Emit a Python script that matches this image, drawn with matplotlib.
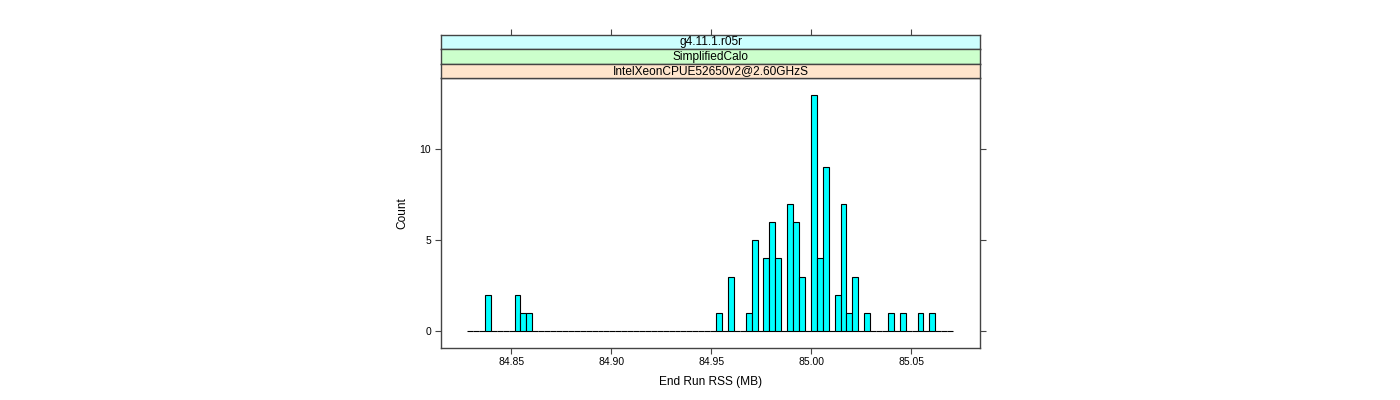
# lattice-style histogram of end run RSS
import numpy as np
import matplotlib
matplotlib.use('Agg')
import matplotlib.pyplot as plt

plt.rcParams['font.family'] = ['Liberation Sans', 'DejaVu Sans']

# Histogram data
bin_start = 84.828     # left edge of first bin (MB)
bin_width = 0.0029625  # bin width (MB)
counts = [0, 0, 0, 2, 0, 0, 0, 0, 2, 1,
          1, 0, 0, 0, 0, 0, 0, 0, 0, 0,
          0, 0, 0, 0, 0, 0, 0, 0, 0, 0,
          0, 0, 0, 0, 0, 0, 0, 0, 0, 0,
          0, 0, 1, 0, 3, 0, 0, 1, 5, 0,
          4, 6, 4, 0, 7, 6, 3, 0, 13, 4,
          9, 0, 2, 7, 1, 3, 0, 1, 0, 0,
          0, 1, 0, 1, 0, 0, 1, 0, 1, 0,
          0, 0]

strip_labels = ['g4.11.1.r05r', 'SimplifiedCalo', 'IntelXeonCPUE52650v2@2.60GHzS']
strip_colors = ['#ccffff', '#ccffcc', '#ffe5cc']

x_ticks = [84.85, 84.90, 84.95, 85.00, 85.05]
y_ticks = [0, 5, 10]
xlim = (84.8148, 85.0845)
ylim = (-0.91, 13.91)

frame_col = '#444444'

fig = plt.figure(figsize=(14, 4), dpi=100)

# Panel
left, right = 0.3148, 0.7002
bottom, top = 0.1308, 0.805
ax = fig.add_axes([left, bottom, right - left, top - bottom])

edges = bin_start + bin_width * np.arange(len(counts))
ax.bar(edges, counts, width=bin_width, align='edge',
       color='#00ffff', edgecolor='black', linewidth=0.8)

ax.set_xlim(*xlim)
ax.set_ylim(*ylim)
ax.set_xticks(x_ticks)
ax.set_xticklabels(['%.2f' % t for t in x_ticks])
ax.set_yticks(y_ticks)
ax.tick_params(axis='both', direction='out', length=4, width=0.8,
               color=frame_col, labelsize=7.5, pad=3)
ax.tick_params(axis='y', right=True, labelright=False)
for sp in ax.spines.values():
    sp.set_color(frame_col)
    sp.set_linewidth(1.0)
ax.set_xlabel('End Run RSS (MB)', fontsize=8.6, labelpad=6)
ax.set_ylabel('Count', fontsize=8.6, labelpad=8)

# Strips (top to bottom)
strip_edges = [0.9133, 0.8768, 0.8408, 0.805]
for i, (lab, col) in enumerate(zip(strip_labels, strip_colors)):
    y0 = strip_edges[i + 1]
    h = strip_edges[i] - y0
    sax = fig.add_axes([left, y0, right - left, h], sharex=ax)
    sax.set_facecolor(col)
    sax.set_yticks([])
    sax.tick_params(axis='x', bottom=False, labelbottom=False)
    if i == 0:
        sax.tick_params(axis='x', top=True, labeltop=False, direction='out',
                        length=4, width=0.8, color=frame_col)
    for sp in sax.spines.values():
        sp.set_color(frame_col)
        sp.set_linewidth(1.0)
    sax.text(0.5, 0.48, lab, transform=sax.transAxes, ha='center', va='center',
             fontsize=8.6)

fig.savefig('out.png', dpi=100)
